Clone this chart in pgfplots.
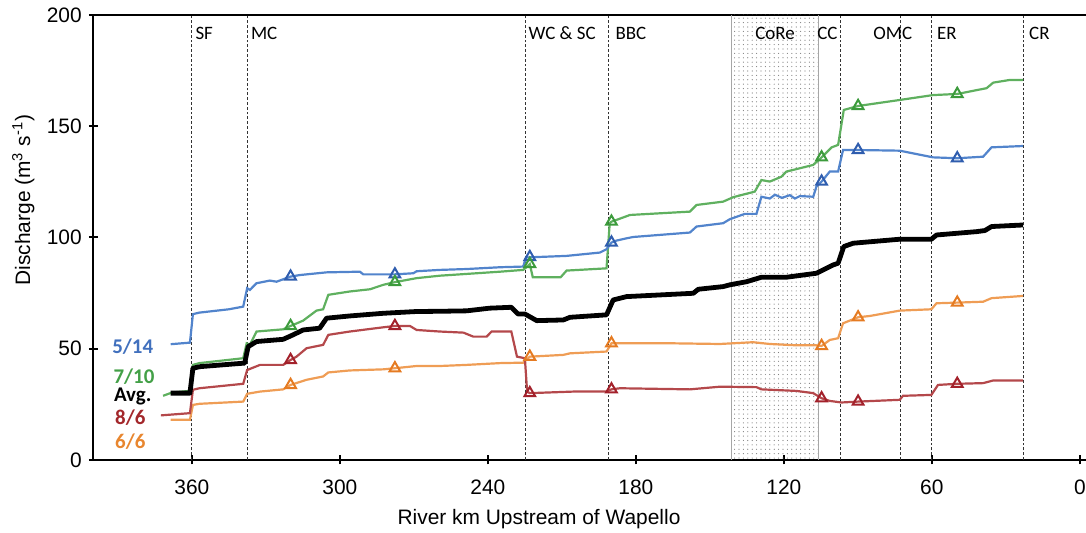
\documentclass[border=0pt]{standalone}
\usepackage{fontspec}
\setmainfont{Liberation Sans}
\newfontfamily\calibri{Carlito}
\usepackage{pgfplots}
\usepackage{pgfplotstable}
\pgfplotsset{compat=1.18}
\usetikzlibrary{patterns.meta}

\definecolor{blueL}{HTML}{5284CC}
\definecolor{blueM}{HTML}{2F5DAE}
\definecolor{blueT}{HTML}{4170BD}
\definecolor{greenL}{HTML}{5FB05F}
\definecolor{greenM}{HTML}{3C9B3C}
\definecolor{greenT}{HTML}{43A047}
\definecolor{redL}{HTML}{B4484B}
\definecolor{redM}{HTML}{A3212B}
\definecolor{redT}{HTML}{A3272B}
\definecolor{orangeL}{HTML}{EF9D55}
\definecolor{orangeM}{HTML}{E57B22}
\definecolor{orangeT}{HTML}{E8862F}

% discharge profiles (river km, m^3/s)
\pgfplotstableread{
km q
368.6 52.0
360.8 52.7
359.6 65.5
357.0 66.2
345.0 67.7
339.2 68.9
337.6 77.2
336.5 76.4
333.8 79.4
328.4 80.6
325.7 80.1
320.0 82.4
316.2 83.1
305.4 84.3
291.9 84.6
290.5 83.4
277.7 83.4
270.2 83.9
268.9 84.8
259.5 85.4
248.6 85.8
235.1 86.6
225.7 86.9
224.5 91.0
208.1 91.7
194.6 93.2
191.9 94.7
189.9 97.7
187.8 98.6
183.8 99.6
181.1 100.2
158.1 102.2
155.4 104.9
144.6 106.4
141.9 108.2
135.8 110.6
131.1 110.6
129.1 118.3
125.7 117.5
123.6 119.2
120.8 117.8
117.6 119.0
115.5 117.5
113.5 118.6
108.1 118.3
106.8 122.8
104.7 125.1
101.4 129.6
98.0 129.6
96.0 139.3
89.9 139.3
73.0 139.0
59.5 136.0
49.7 135.6
39.2 136.3
35.8 140.5
23.0 141.1
}\mayfourteen

\pgfplotstableread{
km q
371.7 28.8
368.0 30.3
361.0 31.0
359.6 42.7
357.0 43.5
339.2 45.7
337.8 52.4
336.5 51.7
333.8 57.7
323.0 58.7
320.0 60.2
314.9 62.6
309.5 67.1
306.8 67.7
304.7 74.2
296.0 75.7
287.8 76.7
282.4 78.7
277.7 79.9
268.9 81.7
259.5 82.8
248.6 83.6
235.1 84.6
225.7 85.4
224.5 86.5
223.0 88.0
221.8 82.1
210.5 82.1
208.1 85.1
191.9 86.1
190.6 106.4
189.9 107.1
187.8 107.9
182.4 110.1
158.1 111.6
155.4 114.6
144.6 116.1
140.5 118.1
131.8 120.6
129.1 125.8
125.7 125.1
121.0 127.3
119.0 129.6
113.5 131.1
108.1 132.6
104.7 136.0
100.6 140.5
98.0 141.6
95.7 157.3
89.9 159.1
73.0 161.8
59.5 164.0
49.7 164.5
37.8 167.1
35.1 169.6
28.4 170.8
23.0 170.8
}\julyten

\pgfplotstableread{
km q
368.6 30.0
360.8 30.0
359.6 41.2
356.8 41.9
343.3 43.1
338.6 43.5
337.2 50.9
333.8 53.2
323.0 54.2
319.0 56.2
314.9 58.4
308.2 59.2
305.4 63.7
296.0 64.7
282.4 65.9
268.9 66.7
259.5 66.8
248.6 67.0
239.3 68.2
230.5 68.6
227.8 65.6
225.0 65.6
220.2 62.6
209.4 62.9
206.7 64.1
191.9 65.2
189.2 71.9
183.8 73.4
156.7 74.9
154.7 76.7
144.6 77.9
141.9 78.7
135.1 80.1
129.1 82.1
119.0 82.1
106.8 83.9
100.1 87.6
98.0 88.4
95.7 95.9
91.9 97.4
73.0 99.2
60.2 99.2
58.1 101.1
41.9 102.6
38.5 103.1
35.8 104.9
23.0 105.6
}\average

\pgfplotstableread{
km q
372.6 20.0
360.8 21.0
359.6 31.5
357.0 32.2
339.2 34.2
337.6 40.4
332.4 42.7
323.0 42.7
320.0 44.9
317.6 46.4
313.5 50.2
306.8 51.7
304.7 56.2
296.0 57.7
282.4 59.6
277.7 60.2
271.6 60.2
268.9 58.4
259.5 57.7
249.9 57.2
245.9 55.4
240.5 55.4
238.5 57.7
230.5 57.7
228.2 46.4
225.0 45.7
224.1 30.7
223.0 30.0
205.4 30.7
191.9 30.7
189.9 31.7
186.5 32.2
158.1 31.7
145.9 32.9
131.1 32.7
129.1 31.7
114.9 31.0
108.1 30.0
104.7 27.7
101.4 26.5
96.6 25.8
89.9 26.2
73.0 27.0
71.7 28.8
60.2 29.2
57.5 33.7
49.7 34.2
39.2 34.5
35.1 35.7
23.0 35.7
}\augsix

\pgfplotstableread{
km q
368.6 18.0
360.8 18.0
359.6 24.7
357.0 25.2
339.2 26.2
337.6 29.7
332.4 30.7
323.0 31.7
320.0 33.7
313.5 36.0
306.8 37.5
304.7 39.3
296.0 40.2
282.4 40.7
277.7 41.2
268.9 42.2
259.5 42.2
248.6 42.7
235.1 43.5
225.7 43.7
223.0 46.4
209.4 47.2
206.7 47.9
191.9 48.7
189.9 52.4
186.5 52.4
165.0 52.4
145.9 52.1
132.5 52.9
125.7 52.1
114.9 51.5
106.8 51.5
104.7 51.2
101.4 53.9
98.0 54.7
96.0 61.4
89.9 64.1
85.1 64.7
73.0 67.1
60.2 67.7
58.1 70.4
49.7 70.7
39.2 71.1
35.8 72.7
23.0 73.7
}\junesix

\begin{document}
\begin{tikzpicture}[
  trib/.style={black!80, line width=0.45bp, dash pattern=on 1.4bp off 1bp},
  site/.style={font=\fontsize{9.5}{11}\calibri, anchor=west, inner sep=0pt},
  series/.style={font=\fontsize{10.5}{12}\calibri\bfseries, anchor=center, inner sep=0pt},
  tri/.style={only marks, mark=triangle, mark size=3.1bp, mark options={solid, line width=1bp}},
]
\begin{axis}[
  scale only axis,
  width=496.5bp, height=222.5bp,
  x dir=reverse,
  xmin=-2.5, xmax=400, ymin=0, ymax=200,
  xtick={0,60,...,360}, ytick={0,50,...,200},
  axis x line=box, axis y line=left,
  axis line style={-, line width=1bp, black},
  tick pos=left,
  tick align=center,
  major tick length=4.5bp,
  every tick/.style={black, line width=1bp},
  /pgf/number format/assume math mode=true,
  ticklabel style={font=\fontsize{10.5}{12}\selectfont},
  xticklabel style={yshift=-4bp},
  xlabel={River km Upstream of Wapello},
  ylabel={Discharge (m\textsuperscript{3} s\textsuperscript{-1})},
  label style={font=\fontsize{10.5}{12}\selectfont},
  xlabel style={at={(axis description cs:0.449,-0.1326)}, anchor=center},
  ylabel style={at={(axis description cs:-0.0705,0.584)}, anchor=center},
  clip=false,
]
% stippled reach
\fill[pattern={Dots[distance=2.2bp, radius=0.3bp]}, pattern color=black!50]
  (141.2,0) rectangle (106.1,200);
\draw[black!35, line width=0.4bp] (141.2,0) -- (141.2,200);
\draw[black!35, line width=0.4bp] (106.1,0) -- (106.1,200);

% tributary confluences
\foreach \k in {360,337.5,224.7,191,97,72.7,60,22.7}{
  \edef\tmp{\noexpand\draw[trib] (\k,0) -- (\k,200);}\tmp
}

\node[site] at (358.7,191.9) {SF};
\node[site] at (336.2,191.9) {MC};
\node[site] at (223.6,191.9) {WC \& SC};
\node[site] at (188.4,191.9) {BBC};
\node[site, anchor=center] at (123.6,191.9) {CoRe};
\node[site] at (106.6,191.9) {CC};
\node[site] at (83.9,191.9) {OMC};
\node[site] at (58.0,191.9) {ER};
\node[site] at (20.7,191.9) {CR};

% profiles
\addplot[orangeL, line width=1.1bp] table[x=km, y=q] {\junesix};
\addplot[redL, line width=1.1bp] table[x=km, y=q] {\augsix};
\addplot[greenL, line width=1.1bp] table[x=km, y=q] {\julyten};
\addplot[blueL, line width=1.1bp] table[x=km, y=q] {\mayfourteen};
\addplot[black, line width=2.4bp, line join=round] table[x=km, y=q] {\average};

% synoptic sampling sites
\addplot[tri, blueM] coordinates {(320,82.4) (277.7,83.4) (223,91.2) (189.9,97.7) (104.7,125.1) (89.9,139.3) (49.7,135.6)};
\addplot[tri, greenM] coordinates {(320,60.2) (277.7,79.9) (223,88.1) (189.9,107.1) (104.7,136.0) (89.9,159.1) (49.7,164.5)};
\addplot[tri, redM] coordinates {(320,44.9) (277.7,60.2) (223,30.0) (189.9,31.7) (104.7,27.7) (89.9,26.2) (49.7,34.2)};
\addplot[tri, orangeM] coordinates {(320,33.7) (277.7,41.2) (223,46.4) (189.9,52.4) (104.7,51.2) (89.9,64.1) (49.7,70.7)};

% series labels
\node[series, text=blueT] at (384,50.8) {5/14};
\node[series, text=greenT] at (383.5,37.6) {7/10};
\node[series, text=black] at (384,28.7) {Avg.};
\node[series, text=redT] at (385,18.9) {8/6};
\node[series, text=orangeT] at (385,8.2) {6/6};
\end{axis}
\pgfresetboundingbox
\path[use as bounding box]
  ([shift={(-46.65bp,-36.5bp)}]current axis.south west)
  rectangle ([shift={(0bp,7.5bp)}]current axis.north east);
\end{tikzpicture}
\end{document}
